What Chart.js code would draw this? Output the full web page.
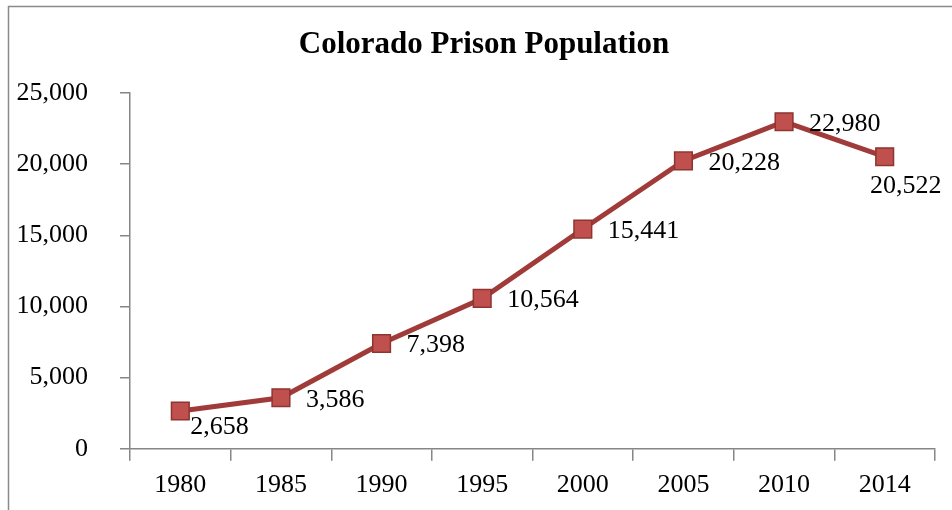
<!DOCTYPE html>
<html>
<head>
<meta charset="utf-8">
<script src="https://cdn.jsdelivr.net/npm/chart.js@4.4.0/dist/chart.umd.min.js"></script>
<style>
  html, body { margin: 0; padding: 0; background: #fff; overflow: hidden; }
  #wrap { width: 952px; height: 510px; }
</style>
</head>
<body>
<div id="wrap"><canvas id="prisonChart" width="952" height="510"></canvas></div>
<script>
// Colorado prison population
const years = ["1980", "1985", "1990", "1995", "2000", "2005", "2010", "2014"];
const population = [2658, 3586, 7398, 10564, 15441, 20228, 22980, 20522];
const yTicks = [0, 5000, 10000, 15000, 20000, 25000];
const chartTitle = "Colorado Prison Population";

// where each value label sits relative to its marker
const labelPlace = ["belowRight", "right", "right", "right", "right", "right", "right", "below"];

const AXIS_GRAY = "#868686";
const FONT = "'Liberation Serif', serif";

// outer frame + title (title centred on the frame, not the plot)
const framePlugin = {
  id: "frame",
  beforeDraw(chart) {
    const ctx = chart.ctx;
    ctx.save();
    ctx.strokeStyle = "#8a8a8a";
    ctx.lineWidth = 1.5;
    ctx.strokeRect(8.5, 6.5, 1000, 1000);
    ctx.font = "bold 31px " + FONT;
    ctx.fillStyle = "#000";
    ctx.textAlign = "center";
    ctx.textBaseline = "middle";
    ctx.fillText(chartTitle, 484, 45);
    ctx.restore();
  }
};

// value labels next to the points
const valueLabels = {
  id: "valueLabels",
  afterDatasetsDraw(chart) {
    const ctx = chart.ctx;
    const meta = chart.getDatasetMeta(0);
    ctx.save();
    ctx.font = "26px " + FONT;
    ctx.fillStyle = "#000";
    ctx.textBaseline = "middle";
    meta.data.forEach((pt, i) => {
      const txt = population[i].toLocaleString("en-US");
      const place = labelPlace[i];
      if (place === "right") {
        ctx.textAlign = "left";
        ctx.fillText(txt, pt.x + 25, pt.y + 2);
      } else if (place === "belowRight") {
        ctx.textAlign = "left";
        ctx.fillText(txt, pt.x + 10, pt.y + 16);
      } else {
        ctx.textAlign = "center";
        ctx.fillText(txt, pt.x + 21, pt.y + 29);
      }
    });
    ctx.restore();
  }
};

const ctx = document.getElementById("prisonChart").getContext("2d");
new Chart(ctx, {
  type: "line",
  data: {
    labels: years,
    datasets: [{
      data: population,
      borderColor: "#A03B39",
      borderWidth: 5,
      pointStyle: "rect",
      pointRadius: 12.5,
      pointHoverRadius: 12.5,
      pointBackgroundColor: "#C0504D",
      pointBorderColor: "#8E3431",
      pointBorderWidth: 1.5,
      tension: 0,
      clip: false
    }]
  },
  options: {
    responsive: false,
    animation: false,
    devicePixelRatio: 1,
    layout: { padding: { left: 0, right: 17, top: 93, bottom: 0 } },
    plugins: {
      legend: { display: false },
      tooltip: { enabled: false },
      title: { display: false }
    },
    scales: {
      x: {
        type: "category",
        offset: true,
        grid: {
          offset: true,
          drawOnChartArea: false,
          drawTicks: true,
          tickLength: 12,
          color: AXIS_GRAY,
          lineWidth: 1.5
        },
        border: { color: AXIS_GRAY, width: 1.5 },
        ticks: {
          color: "#000",
          font: { family: FONT, size: 26 },
          padding: 9,
          maxRotation: 0
        }
      },
      y: {
        min: 0,
        max: 25000,
        afterBuildTicks(scale) {
          scale.ticks = yTicks.map(v => ({ value: v }));
        },
        afterFit(scale) { scale.width = 130; },
        grid: {
          drawOnChartArea: false,
          drawTicks: true,
          tickLength: 10,
          color: AXIS_GRAY,
          lineWidth: 1.5
        },
        border: { color: AXIS_GRAY, width: 1.5 },
        ticks: {
          color: "#000",
          font: { family: FONT, size: 26 },
          padding: 32,
          callback: v => v.toLocaleString("en-US")
        }
      }
    }
  },
  plugins: [framePlugin, valueLabels]
});
</script>
</body>
</html>
